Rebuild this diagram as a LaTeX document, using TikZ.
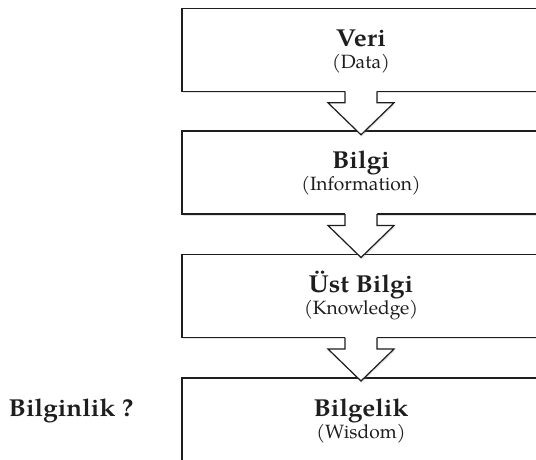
\documentclass[tikz,border=0pt]{standalone}
\usepackage{fontspec}
\setmainfont{TeX Gyre Pagella}
\newfontfamily\ttlfont{TeX Gyre Pagella}[FakeStretch=1.06]
\usetikzlibrary{shadows,calc}
\definecolor{ink}{HTML}{1E1E1E}
\tikzset{
  levelbox/.style={draw=ink, line width=1.2pt, fill=white, minimum width=358pt,
    minimum height=83pt, inner sep=0pt, outer sep=0pt,
    drop shadow={shadow xshift=0.8pt, shadow yshift=-1.8pt, opacity=0.22}},
  ttl/.style={font=\ttlfont\bfseries\fontsize{24.5}{28}\selectfont, text=ink, anchor=base, inner sep=0pt},
  subttl/.style={font=\fontsize{19.2}{23}\selectfont, text=ink, anchor=base, inner sep=0pt},
  blockfill/.style={fill=white, drop shadow={shadow xshift=0.8pt, shadow yshift=-1.8pt, opacity=0.22}},
  blockline/.style={draw=ink, line width=1.2pt, line join=miter},
}
\begin{document}
\begin{tikzpicture}[x=1pt,y=-1pt]
\clip (0,0) rectangle (536,459);
\fill[white] (0,0) rectangle (536,459);
% boxes
\node[levelbox] (b1) at (361,49.8) {};
\node[levelbox] (b2) at (361,172.5) {};
\node[levelbox] (b3) at (361,296) {};
\node[levelbox, minimum height=100pt] (b4) at (361,428) {};
% arrows
\foreach \a in {b1,b2,b3}{
  \path (\a.south) coordinate (s);
  \fill[blockfill] ($(s)+(-16,-1)$) -- ($(s)+(-16,11.5)$) -- ($(s)+(-33,11.5)$) -- ($(s)+(0,43.5)$)
     -- ($(s)+(33,11.5)$) -- ($(s)+(16,11.5)$) -- ($(s)+(16,-1)$) -- cycle;
  \draw[blockline] ($(s)+(-16,0)$) -- ($(s)+(-16,11.5)$) -- ($(s)+(-33,11.5)$) -- ($(s)+(0,43.5)$)
     -- ($(s)+(33,11.5)$) -- ($(s)+(16,11.5)$) -- ($(s)+(16,0)$);
}
% texts
\node[ttl] (t1) at (361,46.8) {Veri};
\node[subttl] (s1) at (361,68.5) {(Data)};
\node[ttl] (t2) at (361,168.5) {Bilgi};
\node[subttl] (s2) at (361,190.5) {(Information)};
\node[ttl] (t3) at (361,292) {Üst Bilgi};
\node[subttl] (s3) at (361,314) {(Knowledge)};
\node[ttl] (t4) at (361,416) {Bilgelik};
\node[subttl] (s4) at (361,438) {(Wisdom)};
\node[ttl, anchor=base west] (q) at (8.5,416) {Bilginlik ?};
\end{tikzpicture}
\end{document}
